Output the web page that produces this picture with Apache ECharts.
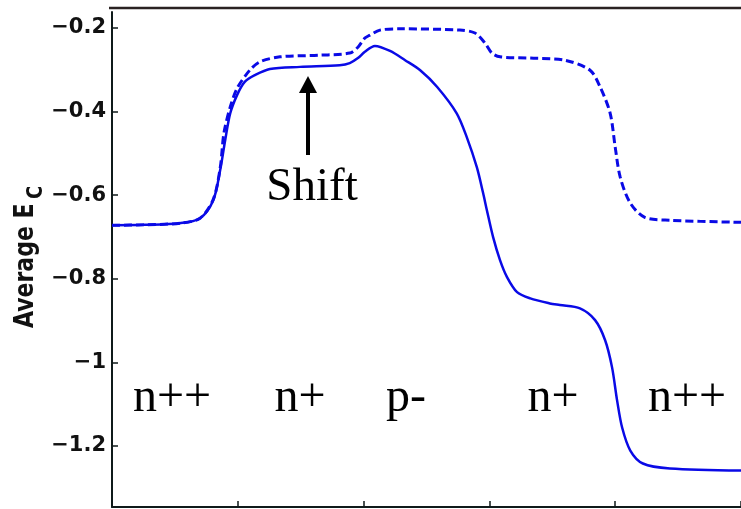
<!DOCTYPE html>
<html>
<head>
<meta charset="utf-8">
<script src="https://cdn.jsdelivr.net/npm/echarts@6/dist/echarts.min.js"></script>
<style>
  html, body { margin: 0; padding: 0; background: #ffffff; }
  #chart { width: 741px; height: 509px; }
</style>
</head>
<body>
<div id="chart"></div>
<script>
// Position along the device (arbitrary units, 0..100)
// Conduction-band energy, solid curve
const solidX = [0, 5, 10.8, 14.0, 16.1, 17.2, 18.0, 18.8, 19.9, 21.1, 22.7, 25.1, 29.9, 36.2, 37.8, 39.1, 40.2, 41.8, 44.2, 46.6, 49.0, 51.7, 54.8, 56.4, 58.0, 59.0, 59.6, 60.6, 61.7, 62.8, 64.4, 66.5, 69.6, 71.2, 74.4, 76.8, 78.4, 79.5, 80.3, 81.1, 82.4, 84.4, 88.7, 100];
const solidY = [-0.672, -0.671, -0.667, -0.655, -0.612, -0.540, -0.468, -0.404, -0.360, -0.329, -0.313, -0.298, -0.293, -0.289, -0.284, -0.272, -0.257, -0.243, -0.255, -0.277, -0.301, -0.341, -0.404, -0.461, -0.533, -0.595, -0.636, -0.701, -0.756, -0.796, -0.832, -0.847, -0.859, -0.863, -0.871, -0.899, -0.947, -1.012, -1.091, -1.156, -1.211, -1.242, -1.254, -1.259];

// Conduction-band energy, dashed curve
const dashX = [0, 5, 10.8, 14.0, 16.1, 17.2, 17.8, 18.8, 19.9, 21.9, 23.5, 26.7, 33.1, 37.8, 39.1, 40.2, 41.0, 42.6, 45.8, 55.3, 57.7, 59.3, 60.4, 61.7, 66.5, 72.0, 76.0, 77.6, 79.2, 80.0, 80.8, 82.4, 84.7, 88.7, 100];
const dashY = [-0.672, -0.671, -0.667, -0.655, -0.610, -0.535, -0.451, -0.389, -0.344, -0.301, -0.281, -0.269, -0.265, -0.260, -0.246, -0.224, -0.217, -0.205, -0.202, -0.205, -0.212, -0.236, -0.260, -0.269, -0.272, -0.277, -0.301, -0.341, -0.404, -0.485, -0.557, -0.619, -0.653, -0.660, -0.665];

// Y-axis ticks
const yTickValues = [-0.2, -0.4, -0.6, -0.8, -1, -1.2];
const yTickLabels = ['\u22120.2', '\u22120.4', '\u22120.6', '\u22120.8', '\u22121', '\u22121.2'];

// Region labels along the device
const regionLabels = ['n++', 'n+', 'p-', 'n+', 'n++'];
const regionCenters = [172, 300, 406, 553, 687];

const pair = (xs, ys) => xs.map((x, i) => [x, ys[i]]);

const chart = echarts.init(document.getElementById('chart'), null, { renderer: 'canvas' });

const axisColor = '#0f1a1a';
const blue = '#0a0ae6';
const serif = '"Liberation Serif", "Times New Roman", serif';
const sans = '"DejaVu Sans", sans-serif';

const graphics = [
  // top border line
  { type: 'line', shape: { x1: 109, y1: 8, x2: 741, y2: 8 }, style: { stroke: '#2a2222', lineWidth: 2.5 }, z: 10 },
  // arrow shaft
  { type: 'line', shape: { x1: 308, y1: 155, x2: 308, y2: 90 }, style: { stroke: '#000', lineWidth: 4 }, z: 10 },
  // arrow head
  { type: 'polygon', shape: { points: [[299, 93], [317, 93], [308, 76]] }, style: { fill: '#000' }, z: 10 },
  // "Shift" label
  { type: 'text', x: 312, y: 188, style: { text: 'Shift', fontFamily: serif, fontSize: 47, fill: '#000', align: 'center', verticalAlign: 'middle' }, z: 10 },
  // y-axis title, rotated to read upwards (glyphs slightly widened)
  {
    type: 'group', x: 26, y: 328, rotation: Math.PI / 2,
    children: [
      { type: 'text', x: 0, y: 0, scaleY: 1.2, style: { text: 'Average E', fontFamily: sans, fontWeight: 'bold', fontSize: 22, fill: '#111', align: 'left', verticalAlign: 'middle' } },
      { type: 'text', x: 129, y: 10, scaleY: 1.2, style: { text: 'C', fontFamily: sans, fontWeight: 'bold', fontSize: 18, fill: '#111', align: 'left', verticalAlign: 'middle' } }
    ],
    z: 10
  }
];
regionLabels.forEach((t, i) => {
  graphics.push({ type: 'text', x: regionCenters[i], y: 398, style: { text: t, fontFamily: serif, fontSize: 48, fill: '#000', align: 'center', verticalAlign: 'middle' }, z: 10 });
});

chart.setOption({
  backgroundColor: '#ffffff',
  animation: false,
  grid: { left: 112, top: 12, width: 629, height: 495, containLabel: false },
  xAxis: {
    type: 'value', min: 0, max: 100, interval: 20,
    axisLine: { show: true, onZero: false, lineStyle: { color: axisColor, width: 2 } },
    axisTick: { show: true, inside: true, length: 6, lineStyle: { color: axisColor, width: 1.5 } },
    axisLabel: { show: false },
    splitLine: { show: false }
  },
  yAxis: {
    type: 'value', min: -1.3461, max: -0.1617,
    axisLine: { show: true, onZero: false, lineStyle: { color: axisColor, width: 2 } },
    axisTick: { show: true, inside: true, length: 6, customValues: yTickValues, lineStyle: { color: axisColor, width: 1.5 } },
    axisLabel: {
      show: true, customValues: yTickValues, margin: 6,
      formatter: (v) => yTickLabels[yTickValues.findIndex(t => Math.abs(t - v) < 1e-6)],
      fontFamily: sans, fontWeight: 'bold', fontSize: 21, color: '#111'
    },
    splitLine: { show: false }
  },
  series: [
    {
      type: 'line', data: pair(dashX, dashY), showSymbol: false, smooth: 0.3,
      lineStyle: { color: blue, width: 3, type: [8, 4] }, z: 2
    },
    {
      type: 'line', data: pair(solidX, solidY), showSymbol: false, smooth: 0.3,
      lineStyle: { color: blue, width: 2.5 }, z: 3
    }
  ],
  graphic: graphics
});
</script>
</body>
</html>
